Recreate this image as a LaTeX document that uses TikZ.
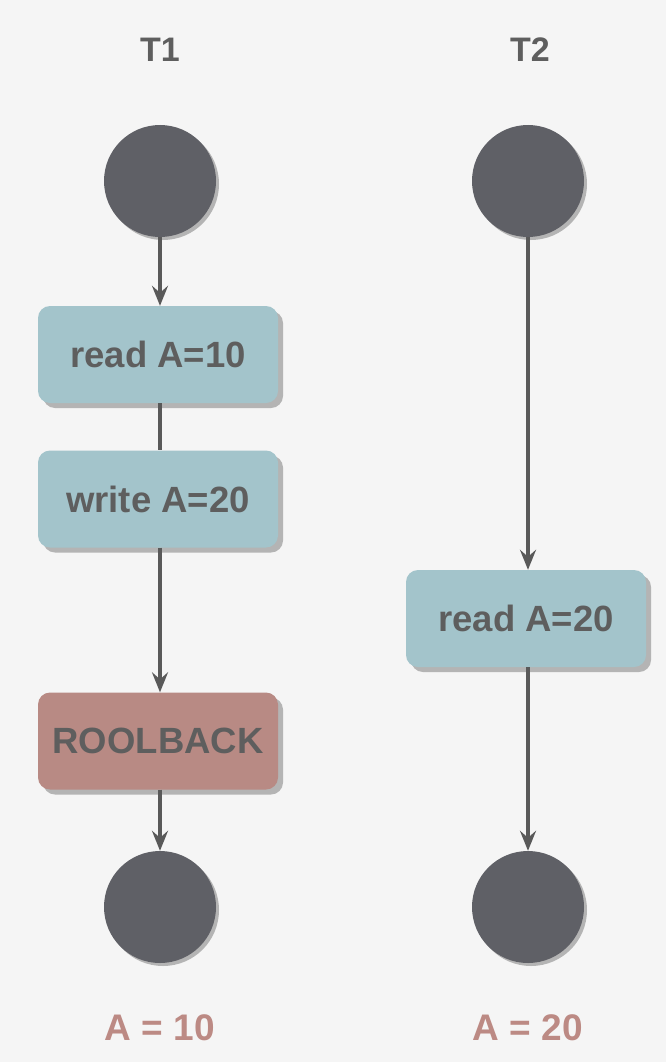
\documentclass[tikz,border=0pt]{standalone}
\usepackage{fontspec}
\setmainfont{Liberation Sans}
\usetikzlibrary{arrows.meta,shadows}
\definecolor{bgc}{HTML}{F5F5F5}
\definecolor{circc}{HTML}{5F6066}
\definecolor{boxc}{HTML}{A3C4CB}
\definecolor{rbc}{HTML}{B88A84}
\definecolor{txtc}{HTML}{5E5E5E}
\definecolor{linec}{HTML}{595959}
\definecolor{resc}{HTML}{BC8A84}
\definecolor{shc}{HTML}{B4B4B4}
\tikzset{
  myshadow/.style={drop shadow={shadow xshift=5pt,shadow yshift=-5pt,fill=shc,opacity=1}},
  circshadow/.style={drop shadow={shadow xshift=3pt,shadow yshift=-3pt,fill=shc,opacity=1}},
  endpt/.style={circle,fill=circc,minimum size=112pt,inner sep=0pt,circshadow},
  stepbox/.style={rectangle,rounded corners=12pt,fill=boxc,minimum width=240pt,minimum height=97pt,inner sep=0pt,myshadow,
    font=\fontsize{36.5}{42}\selectfont\bfseries,text=txtc},
  rbbox/.style={stepbox,fill=rbc},
  title/.style={font=\fontsize{34}{40}\selectfont\bfseries,text=txtc},
  result/.style={font=\fontsize{37}{43}\selectfont\bfseries,text=resc},
  conn/.style={draw=linec,line width=3.5pt},
  arr/.style={conn,-{Stealth[length=20pt,width=16pt,inset=7pt]}}
}
\begin{document}
\begin{tikzpicture}[x=1pt,y=-1pt]
\fill[bgc] (0,0) rectangle (666,1062);
\useasboundingbox (0,0) rectangle (666,1062);
\node[title] (t1) at (160,50) {T1};
\node[title] (t2) at (530,50) {T2};
\node[endpt] (s1) at (160,181) {};
\node[endpt] (s2) at (528,181) {};
\node[stepbox] (r1) at (158,354.5) {read A=10};
\node[stepbox] (w1) at (158,499) {write A=20};
\node[rbbox] (rb) at (158,741) {ROOLBACK};
\node[stepbox] (r2) at (526,618.5) {read A=20};
\node[endpt] (e1) at (160,907) {};
\node[endpt] (e2) at (528,907) {};
\node[result] (a1) at (160,1028) {A = 10};
\node[result] (a2) at (528,1028) {A = 20};
\draw[arr] (s1) -- (r1.north -| s1);
\draw[conn] (r1.south -| s1) -- (w1.north -| s1);
\draw[arr] (w1.south -| s1) -- (rb.north -| s1);
\draw[arr] (rb.south -| s1) -- (e1);
\draw[arr] (s2) -- (r2.north -| s2);
\draw[arr] (r2.south -| s2) -- (e2);
\end{tikzpicture}
\end{document}
